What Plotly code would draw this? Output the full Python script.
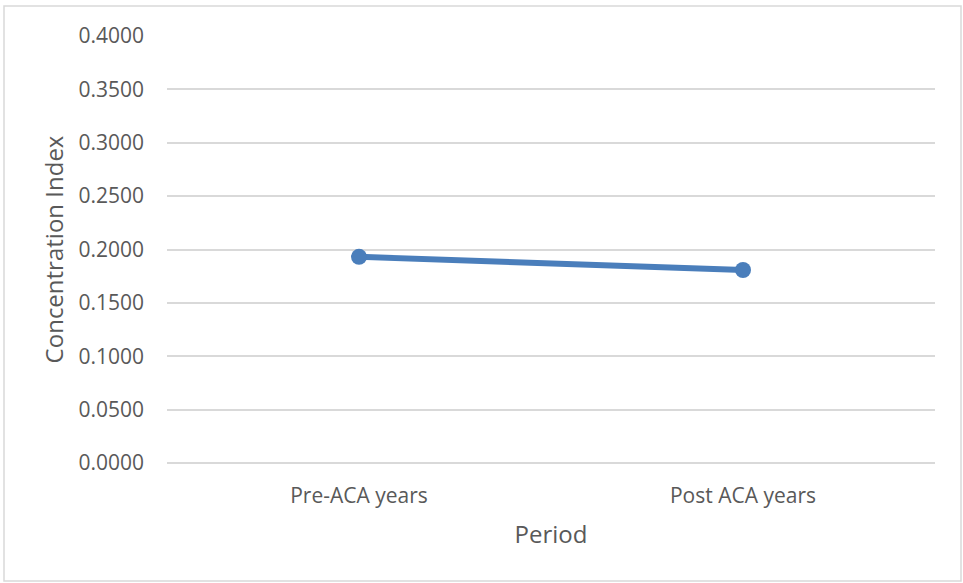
import plotly.graph_objects as go

# Concentration index by period
periods = ["Pre-ACA years", "Post ACA years"]
conc_index = [0.1931, 0.1808]
y_ticks = [0.0, 0.05, 0.10, 0.15, 0.20, 0.25, 0.30, 0.35, 0.40]

W, H = 963, 583
L, R, T, B = 167, 28, 36, 120
pw, ph = W - L - R, H - T - B

font_family = "Open Sans, Liberation Sans, sans-serif"
text_color = "#595959"

fig = go.Figure()
fig.add_trace(go.Scatter(
    x=periods,
    y=conc_index,
    mode="lines+markers",
    line=dict(color="#4A7EBB", width=6),
    marker=dict(color="#4A7EBB", size=16),
    showlegend=False,
))

fig.update_layout(
    width=W,
    height=H,
    margin=dict(l=L, r=R, t=T, b=B),
    paper_bgcolor="white",
    plot_bgcolor="white",
    font=dict(family=font_family, size=21, color=text_color),
    xaxis=dict(
        type="category",
        range=[-0.5, 1.5],
        showgrid=False,
        showline=False,
        zeroline=False,
        ticks="",
        ticklabelstandoff=18,
        tickfont=dict(size=21, color=text_color),
        title=dict(text="Period", font=dict(size=24, color=text_color), standoff=18),
    ),
    yaxis=dict(
        range=[0, 0.4],
        tickvals=y_ticks,
        tickformat=".4f",
        showgrid=True,
        gridcolor="#D9D9D9",
        gridwidth=2,
        zeroline=True,
        zerolinecolor="#D9D9D9",
        zerolinewidth=2,
        showline=False,
        ticks="",
        ticklen=0,
        ticklabelstandoff=22,
        tickfont=dict(size=21, color=text_color),
        title=dict(text="Concentration Index", font=dict(size=24, color=text_color), standoff=8),
    ),
)

# Outer chart frame
fig.add_shape(
    type="rect",
    xref="paper", yref="paper",
    x0=(4 - L) / pw, x1=(961 - L) / pw,
    y0=-(581 - T - ph) / ph, y1=1 + (T - 6) / ph,
    line=dict(color="#D9D9D9", width=1.5),
    fillcolor="rgba(0,0,0,0)",
    layer="below",
)

fig.write_html("out.html")
